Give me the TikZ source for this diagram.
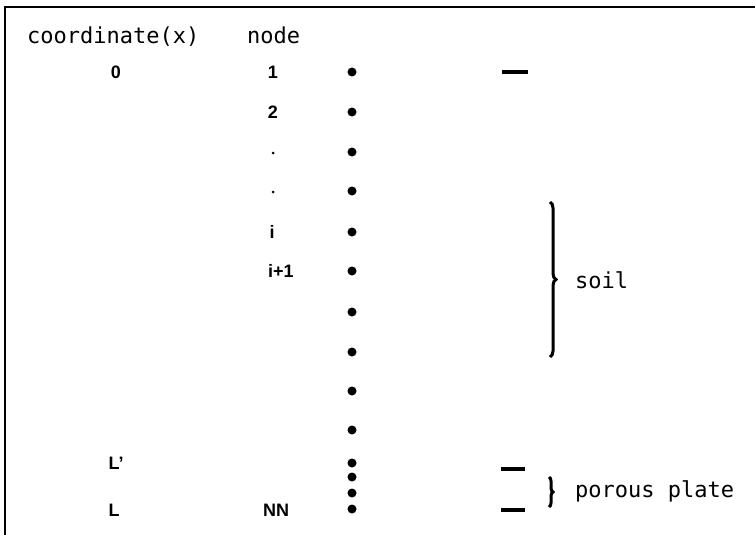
\documentclass[tikz,border=0pt]{standalone}
\usepackage{fontspec}
\setmonofont{DejaVu Sans Mono}
\newfontfamily\lblfont{Liberation Sans}
\usetikzlibrary{decorations.pathreplacing}

\begin{document}
\begin{tikzpicture}[x=1pt,y=-1pt,
  mono/.style={font=\ttfamily\fontsize{22}{26}\selectfont, inner sep=0pt, anchor=base west},
  lbl/.style={font=\lblfont\bfseries\fontsize{18}{20}\selectfont, inner sep=0pt, anchor=base},
  gridpt/.style={circle, fill=black, inner sep=0pt, minimum size=9pt},
  smallpt/.style={circle, fill=black, inner sep=0pt, minimum size=3pt},
  tick/.style={line width=4pt},
  frameline/.style={line width=2.5pt},
  curly/.style={decorate, decoration={brace, amplitude=6pt}, line width=3pt}]

\useasboundingbox (0,0) rectangle (755,535);

% frame: top and left edges only
\draw[frameline] (5,535) -- (5,7) -- (755,7);

% column headings
\node[mono] (hcoord) at (27,44) {coordinate(x)};
\node[mono] (hnode) at (247,44) {node};

% grid points
\foreach \i/\y in {1/72,2/112,3/152,4/191,5/232,6/271,7/312,8/352,9/391,10/430,11/463,12/477,13/493,14/509}
  \node[gridpt] (p\i) at (352,\y) {};

% coordinate labels
\node[lbl] (x0) at (116,78) {0};
\node[lbl] (xLp) at (116,469) {L\textquoteright};
\node[lbl] (xL) at (114,516) {L};

% node numbers
\node[lbl] (n1) at (273,78) {1};
\node[lbl] (n2) at (273,118) {2};
\node[smallpt] (n3) at (273,153) {};
\node[smallpt] (n4) at (273,192) {};
\node[lbl] (ni) at (272,238) {i};
\node[lbl, anchor=base west] (nip) at (268,277) {i+1};
\node[lbl] (nNN) at (276,516) {NN};

% surface and porous plate markers
\coordinate (t1a) at (502,72);  \coordinate (t1b) at (528,72);
\coordinate (t2a) at (501,469); \coordinate (t2b) at (525,469);
\coordinate (t3a) at (501,510); \coordinate (t3b) at (525,510);
\draw[tick] (t1a) -- (t1b);
\draw[tick] (t2a) -- (t2b);
\draw[tick] (t3a) -- (t3b);

% braces and their labels
\coordinate (sa) at (550,202); \coordinate (sb) at (550,357);
\draw[curly] (sa) -- (sb);
\node[mono] (soil) at (575,288) {soil};

\coordinate (pa) at (549,477); \coordinate (pb) at (549,507);
\draw[curly, decoration={brace, amplitude=4pt}] (pa) -- (pb);
\node[mono] (plate) at (575,497) {porous plate};

\end{tikzpicture}
\end{document}
